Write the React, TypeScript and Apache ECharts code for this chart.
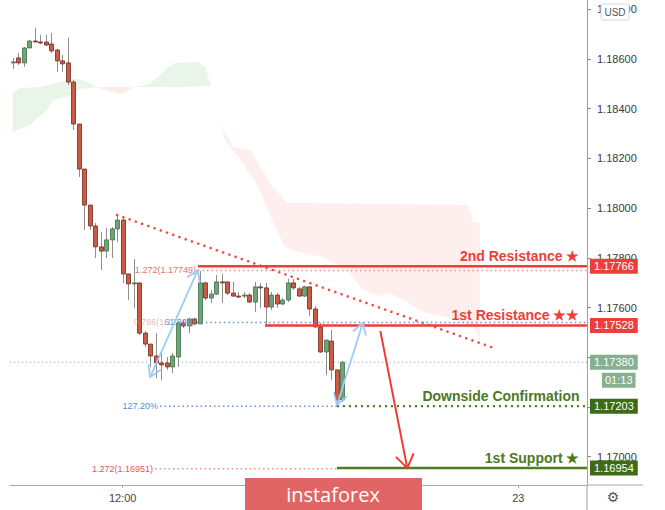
import React, { useEffect, useRef } from "react";
import * as echarts from "echarts";

// ---------- data ----------
const candleOHLC: number[][] = [
  [1.18584, 1.18588, 1.1856, 1.18604],
  [1.18604, 1.18584, 1.18576, 1.18624],
  [1.18584, 1.18644, 1.18568, 1.18648],
  [1.18644, 1.18672, 1.18644, 1.18676],
  [1.18672, 1.18668, 1.18668, 1.18725],
  [1.18668, 1.18664, 1.1866, 1.18697],
  [1.18668, 1.18656, 1.18652, 1.18697],
  [1.1866, 1.18632, 1.18624, 1.18705],
  [1.18636, 1.18592, 1.18548, 1.1864],
  [1.18592, 1.1858, 1.18548, 1.18616],
  [1.18584, 1.18507, 1.18495, 1.18685],
  [1.18507, 1.18338, 1.18314, 1.18515],
  [1.18338, 1.18157, 1.18125, 1.18338],
  [1.18157, 1.18012, 1.17912, 1.18157],
  [1.18012, 1.17928, 1.17912, 1.18012],
  [1.17928, 1.17844, 1.17799, 1.1794],
  [1.17844, 1.17827, 1.17751, 1.17904],
  [1.17827, 1.17872, 1.17799, 1.1792],
  [1.17872, 1.17916, 1.17799, 1.17924],
  [1.17916, 1.17952, 1.17864, 1.17976],
  [1.17952, 1.17735, 1.17699, 1.17968],
  [1.17735, 1.17695, 1.1763, 1.17735],
  [1.17695, 1.17699, 1.17598, 1.17795],
  [1.17699, 1.17497, 1.17489, 1.17699],
  [1.17497, 1.17453, 1.17441, 1.17505],
  [1.17453, 1.17405, 1.17361, 1.17453],
  [1.17405, 1.17377, 1.17316, 1.17497],
  [1.17377, 1.17369, 1.17308, 1.17421],
  [1.17377, 1.17361, 1.17349, 1.17401],
  [1.17361, 1.17405, 1.17336, 1.17417],
  [1.17401, 1.17538, 1.17361, 1.17538],
  [1.17538, 1.17526, 1.17518, 1.1755],
  [1.17526, 1.17554, 1.17497, 1.17558],
  [1.17554, 1.17534, 1.1753, 1.17558],
  [1.17534, 1.17699, 1.17534, 1.17747],
  [1.17699, 1.17638, 1.1763, 1.17703],
  [1.17638, 1.17654, 1.17618, 1.17671],
  [1.17654, 1.17703, 1.1765, 1.17731],
  [1.17703, 1.17699, 1.17618, 1.17735],
  [1.17703, 1.17658, 1.1765, 1.17703],
  [1.17658, 1.17646, 1.17642, 1.17703],
  [1.17646, 1.17644, 1.17638, 1.17662],
  [1.17646, 1.1765, 1.17638, 1.17662],
  [1.1765, 1.17622, 1.17618, 1.17658],
  [1.17622, 1.17683, 1.17582, 1.17703],
  [1.17683, 1.17679, 1.17598, 1.17699],
  [1.17679, 1.17602, 1.17522, 1.17699],
  [1.17602, 1.1765, 1.1759, 1.17662],
  [1.1765, 1.17614, 1.17598, 1.17658],
  [1.17614, 1.1763, 1.1761, 1.17638],
  [1.1763, 1.17699, 1.17622, 1.17715],
  [1.17699, 1.17679, 1.17671, 1.17715],
  [1.17675, 1.17646, 1.17642, 1.17683],
  [1.17646, 1.17683, 1.17642, 1.17687],
  [1.17683, 1.17594, 1.17566, 1.17683],
  [1.17594, 1.17522, 1.17518, 1.17606],
  [1.17522, 1.17421, 1.17417, 1.17538],
  [1.17421, 1.17469, 1.17328, 1.17469],
  [1.17465, 1.17349, 1.17308, 1.1751],
  [1.17349, 1.17228, 1.172, 1.17349],
  [1.17228, 1.1738, 1.1722, 1.17385],
];

// Ichimoku cloud boundaries: [barIndex, price]
const greenCloud1Upper = [[0, 1.18463], [1.3, 1.18483], [5.0, 1.18487], [9.9, 1.18515], [11.7, 1.1852], [13.5, 1.18507], [15.3, 1.18487]];
const greenCloud1Lower = [[0, 1.18306], [3.1, 1.18334], [6.2, 1.18395], [7.3, 1.18435], [9.9, 1.18447], [12.2, 1.18479], [15.3, 1.18487]];
const redTwistUpper = [[15.3, 1.18487], [21.9, 1.18487]];
const redTwistLower = [[15.3, 1.18487], [17.7, 1.18467], [19.5, 1.18459], [20.8, 1.18471], [21.9, 1.18487]];
const greenCloud2Upper = [[21.9, 1.18487], [24.4, 1.18495], [26.3, 1.18524], [28.1, 1.18564], [29.5, 1.18584], [33.5, 1.18588], [35.0, 1.18568], [36.1, 1.18491]];
const greenCloud2Lower = [[21.9, 1.18487], [30, 1.18487], [36.1, 1.18491]];
const redCloudUpper = [[36.1, 1.18491], [38.1, 1.18322], [40.1, 1.18246], [43.2, 1.18234], [46.8, 1.18101], [49.9, 1.18021], [82.8, 1.18012], [83.8, 1.17944], [85.0, 1.1794]];
const redCloudLower = [[36.1, 1.18491], [37.2, 1.18395], [38.6, 1.18274], [41.4, 1.18194], [44.5, 1.18093], [46.8, 1.17972], [49.2, 1.17852], [50.5, 1.17831], [56.5, 1.17803], [60.8, 1.17751], [63.7, 1.1767], [66.8, 1.17646], [68.6, 1.17658], [71.7, 1.17622], [74.7, 1.17582], [79.6, 1.17558], [83.8, 1.17522], [85.0, 1.17469]];

// levels
const resistance2 = 1.17766;
const resistance1 = 1.17528;
const downsideConfirm = 1.17203;
const support1 = 1.16954;
const lastPrice = 1.1738;
const fibUpper1272 = 1.17749;
const fib0786 = 1.1754;
const fibLower1272 = 1.16951;
const lastTimer = "01:13";

// drawing anchors [barIndex, price]
const trendLine = [[19.0, 1.17972], [88.1, 1.17433]];
const blueArrows = [
  [25.0, 1.1732, 33.7, 1.17751],
  [59.0, 1.17208, 63.7, 1.17538],
];
const redArrow = [[66.9, 1.17505, 71.8, 1.16954]];

// axes
const xTickIdx = [20, 92];
const xTickLabels = ["12:00", "23"];
const yTicks = [1.17, 1.172, 1.174, 1.176, 1.178, 1.18, 1.182, 1.184, 1.186, 1.188];
// labels fully covered by price boxes in the original are left out
const yTickLabels = [1.17, 1.176, 1.178, 1.18, 1.182, 1.184, 1.186, 1.188];
const X_MIN = -0.5;
const X_MAX = 104.5;
const Y_MIN = 1.16886;
const Y_MAX = 1.18837;

const RED = "#ee3e39";
const RED_BOX = "#ec3f3a";
const GREEN_TXT = "#4b7a1f";
const GREEN_BOX = "#3f6b17";
const PINK = "#f08c86";
const BLUE_DOT = "#5b96d8";
const FONT = "'Liberation Sans', Arial, sans-serif";

function head(tip: number[], from: number[], len: number, ang: number) {
  const dx = from[0] - tip[0];
  const dy = from[1] - tip[1];
  const d = Math.sqrt(dx * dx + dy * dy) || 1;
  const ux = dx / d, uy = dy / d;
  const rot = (a: number) => [
    tip[0] + len * (ux * Math.cos(a) - uy * Math.sin(a)),
    tip[1] + len * (ux * Math.sin(a) + uy * Math.cos(a)),
  ];
  return [rot(ang), tip, rot(-ang)];
}

function priceBox(value: number, text: string, bg: string, extra: any = {}) {
  return {
    coord: [X_MAX, value],
    label: {
      show: true,
      position: "right",
      distance: 2.5,
      formatter: text,
      backgroundColor: bg,
      color: "#fff",
      fontSize: 11,
      fontFamily: FONT,
      padding: [2, 4, 2, 4],
      ...extra,
    },
  };
}

function nameLabel(value: number, text: string, color: string) {
  return {
    coord: [X_MAX, value],
    label: {
      show: true,
      position: "left",
      distance: 7,
      offset: [0, -10],
      formatter: text,
      color,
      fontSize: 14,
      fontWeight: "bold",
      fontFamily: FONT,
    },
  };
}

function startLabel(x: number, value: number, text: string, color: string) {
  return {
    coord: [x, value],
    label: {
      show: true,
      position: "left",
      distance: 1.5,
      formatter: text,
      color,
      fontSize: 9,
      fontFamily: FONT,
    },
  };
}

function levelLine(x1: number, x2: number, value: number, lineStyle: any, marks: any[], z = 6) {
  return {
    type: "line",
    data: [[x1, value], [x2, value]],
    showSymbol: false,
    symbol: "none",
    silent: true,
    z,
    lineStyle,
    markPoint: {
      symbol: "circle",
      symbolSize: 1,
      itemStyle: { color: "transparent" },
      silent: true,
      data: marks,
    },
  };
}

export default function App() {
  const ref = useRef<HTMLDivElement>(null);

  useEffect(() => {
    if (!ref.current) return;
    const chart = echarts.init(ref.current, null, { renderer: "svg" });

    const cloudSegments = [
      { upper: greenCloud1Upper, lower: greenCloud1Lower, color: "rgba(76,175,80,0.13)" },
      { upper: redTwistUpper, lower: redTwistLower, color: "rgba(244,67,54,0.10)" },
      { upper: greenCloud2Upper, lower: greenCloud2Lower, color: "rgba(76,175,80,0.13)" },
      { upper: redCloudUpper, lower: redCloudLower, color: "rgba(244,67,54,0.085)" },
    ];

    const option: any = {
      animation: false,
      textStyle: { fontFamily: FONT },
      grid: { left: 10, right: 78, top: 0, bottom: 25, containLabel: false },
      xAxis: {
        type: "value",
        min: X_MIN,
        max: X_MAX,
        splitLine: { show: false },
        axisLine: { show: true, onZero: false, lineStyle: { color: "#a8a8a8", width: 1 } },
        axisTick: { show: true, customValues: xTickIdx, length: 3, lineStyle: { color: "#a8a8a8" } },
        axisLabel: {
          customValues: xTickIdx,
          formatter: (v: number) => xTickLabels[xTickIdx.indexOf(v)] ?? "",
          color: "#444",
          fontSize: 11,
          margin: 7,
        },
      },
      yAxis: {
        type: "value",
        position: "right",
        min: Y_MIN,
        max: Y_MAX,
        scale: true,
        splitLine: { show: false },
        axisLine: { show: true, onZero: false, lineStyle: { color: "#a0a0a0", width: 1 } },
        axisTick: { show: true, customValues: yTicks, length: 4, lineStyle: { color: "#8a8a8a" } },
        axisLabel: {
          customValues: yTickLabels,
          formatter: (v: number) => v.toFixed(5),
          color: "#3a3a3a",
          fontSize: 11,
          margin: 10,
        },
      },
      series: [
        {
          type: "custom",
          name: "cloud",
          silent: true,
          z: 1,
          data: cloudSegments.map((_, i) => [i]),
          encode: { x: 0 },
          renderItem: (params: any, api: any) => {
            const seg = cloudSegments[params.dataIndex];
            const pts = seg.upper
              .map((p) => api.coord(p))
              .concat(seg.lower.slice().reverse().map((p) => api.coord(p)));
            return { type: "polygon", shape: { points: pts }, style: { fill: seg.color } };
          },
        },
        {
          type: "custom",
          name: "candles",
          silent: true,
          z: 4,
          data: candleOHLC.map((c, i) => [i, c[0], c[1], c[2], c[3]]),
          encode: { x: 0, y: [1, 2, 3, 4] },
          renderItem: (params: any, api: any) => {
            const i = api.value(0);
            const o = api.value(1), c = api.value(2), l = api.value(3), h = api.value(4);
            const po = api.coord([i, o]);
            const pc = api.coord([i, c]);
            const pl = api.coord([i, l]);
            const ph = api.coord([i, h]);
            const x = Math.round(po[0]) + 0.5;
            const w = 4;
            const up = c >= o;
            const top = Math.min(po[1], pc[1]);
            const bh = Math.max(1, Math.abs(po[1] - pc[1]));
            return {
              type: "group",
              children: [
                { type: "line", shape: { x1: x, y1: ph[1], x2: x, y2: pl[1] }, style: { stroke: "#8e8e8e", lineWidth: 1 } },
                {
                  type: "rect",
                  shape: { x: x - w / 2, y: top, width: w, height: bh },
                  style: {
                    fill: up ? "#6fa479" : "#cc5a44",
                    stroke: up ? "#3f6e48" : "#74291e",
                    lineWidth: 0.8,
                  },
                },
              ],
            };
          },
        },
        // current price dotted line
        levelLine(X_MIN, X_MAX, lastPrice, { color: "#9a9a9a", width: 1, type: [1, 3] }, [
          priceBox(lastPrice, lastPrice.toFixed(5), "#86b090"),
          priceBox(lastPrice, lastTimer, "#86b090", { distance: 14.5, offset: [0, 18], padding: [2, 3, 2, 3] }),
        ], 3),
        // trend line
        {
          type: "line",
          data: trendLine,
          showSymbol: false,
          symbol: "none",
          silent: true,
          z: 5,
          lineStyle: { color: "#f04a48", width: 2.6, type: [0.01, 6.6], cap: "round" },
        },
        // fib 1.272 upper dotted
        levelLine(33.7, X_MAX, fibUpper1272, { color: PINK, width: 1.5, type: [1.5, 3] }, [
          startLabel(33.7, fibUpper1272, `1.272(${fibUpper1272.toFixed(5)})`, "#e57373"),
        ]),
        // 2nd resistance
        levelLine(33.7, X_MAX, resistance2, { color: RED, width: 2.5 }, [
          nameLabel(resistance2, "2nd Resistance ★", RED),
          priceBox(resistance2, resistance2.toFixed(5), RED_BOX),
        ], 7),
        // fib 0.786 pink (under) + 61.8 blue dotted
        levelLine(33.5, X_MAX, fib0786, { color: BLUE_DOT, width: 1.5, type: [1.5, 3] }, [
          startLabel(33.5, fib0786, `0.786(${fib0786.toFixed(5)})`, "rgba(236,130,130,0.6)"),
          startLabel(33.5, fib0786, "61.80%", "rgba(80,140,214,0.85)"),
        ]),
        // 1st resistance
        levelLine(45.9, X_MAX, resistance1, { color: RED, width: 2.5 }, [
          nameLabel(resistance1, "1st Resistance ★★", RED),
          priceBox(resistance1, resistance1.toFixed(5), RED_BOX),
        ], 7),
        // 127.20% blue dotted
        levelLine(26.8, 59.0, downsideConfirm, { color: BLUE_DOT, width: 1.5, type: [1.5, 3] }, [
          startLabel(26.8, downsideConfirm, "127.20%", "#4a8fd6"),
        ]),
        // downside confirmation
        levelLine(59.0, X_MAX, downsideConfirm, { color: "#4e7d1e", width: 2.2, type: [2, 4] }, [
          nameLabel(downsideConfirm, "Downside Confirmation", GREEN_TXT),
          priceBox(downsideConfirm, downsideConfirm.toFixed(5), GREEN_BOX),
        ], 7),
        // fib 1.272 lower dotted
        levelLine(25.9, 59.0, fibLower1272, { color: PINK, width: 1.5, type: [1.5, 3] }, [
          startLabel(25.9, fibLower1272, `1.272(${fibLower1272.toFixed(5)})`, "#e05a5a"),
        ]),
        // 1st support
        levelLine(59.0, X_MAX, support1, { color: "#4e7d1e", width: 2.5 }, [
          nameLabel(support1, "1st Support ★", GREEN_TXT),
          priceBox(support1, support1.toFixed(5), GREEN_BOX),
        ], 7),
        // light blue double-headed arrows
        {
          type: "custom",
          name: "blueArrows",
          silent: true,
          z: 8,
          data: blueArrows,
          encode: { x: [0, 2], y: [1, 3] },
          renderItem: (params: any, api: any) => {
            const p1 = api.coord([api.value(0), api.value(1)]);
            const p2 = api.coord([api.value(2), api.value(3)]);
            const st = { stroke: "#9fcbf3", lineWidth: 1.8, fill: null };
            return {
              type: "group",
              children: [
                { type: "line", shape: { x1: p1[0], y1: p1[1], x2: p2[0], y2: p2[1] }, style: st },
                { type: "polyline", shape: { points: head(p1, p2, 13, 0.55) }, style: st },
                { type: "polyline", shape: { points: head(p2, p1, 13, 0.55) }, style: st },
              ],
            };
          },
        },
        // red arrow
        {
          type: "custom",
          name: "redArrow",
          silent: true,
          z: 8,
          data: redArrow,
          encode: { x: [0, 2], y: [1, 3] },
          renderItem: (params: any, api: any) => {
            const p1 = api.coord([api.value(0), api.value(1)]);
            const p2 = api.coord([api.value(2), api.value(3)]);
            const st = { stroke: "#ef3b36", lineWidth: 2, fill: null };
            return {
              type: "group",
              children: [
                { type: "line", shape: { x1: p1[0], y1: p1[1], x2: p2[0], y2: p2[1] }, style: st },
                { type: "polyline", shape: { points: head(p2, p1, 16, 0.6) }, style: st },
              ],
            };
          },
        },
      ],
      graphic: [
        { type: "line", z: 50, shape: { x1: 587, y1: 485, x2: 643, y2: 485 }, style: { stroke: "#a8a8a8", lineWidth: 1 } },
        { type: "line", z: 50, shape: { x1: 587, y1: 485, x2: 587, y2: 510 }, style: { stroke: "#a0a0a0", lineWidth: 1 } },
        {
          type: "rect",
          z: 60,
          shape: { x: 601, y: 4, width: 28, height: 16, r: 2 },
          style: { fill: "#fff", stroke: "#d8d8d8", lineWidth: 1 },
        },
        {
          type: "text",
          z: 61,
          style: { x: 615, y: 12.5, text: "USD", fill: "#555", fontSize: 10, fontFamily: FONT, align: "center", verticalAlign: "middle" },
        },
        {
          type: "text",
          z: 61,
          style: { x: 613, y: 497, text: "⚙", fill: "#555", fontSize: 14, fontFamily: "'DejaVu Sans', sans-serif", align: "center", verticalAlign: "middle" },
        },
        {
          type: "rect",
          z: 70,
          shape: { x: 245, y: 478, width: 177, height: 32 },
          style: { fill: "#e26565" },
        },
        {
          type: "text",
          z: 71,
          style: { x: 333, y: 494, text: "instaforex", fill: "#fff", fontSize: 20, fontFamily: "'Open Sans', 'Liberation Sans', sans-serif", align: "center", verticalAlign: "middle" },
        },
      ],
    };

    chart.setOption(option);
    return () => chart.dispose();
  }, []);

  return (
    <div
      ref={ref}
      style={{ position: "absolute", left: 0, top: 0, width: 665, height: 510, background: "#fff" }}
    />
  );
}
